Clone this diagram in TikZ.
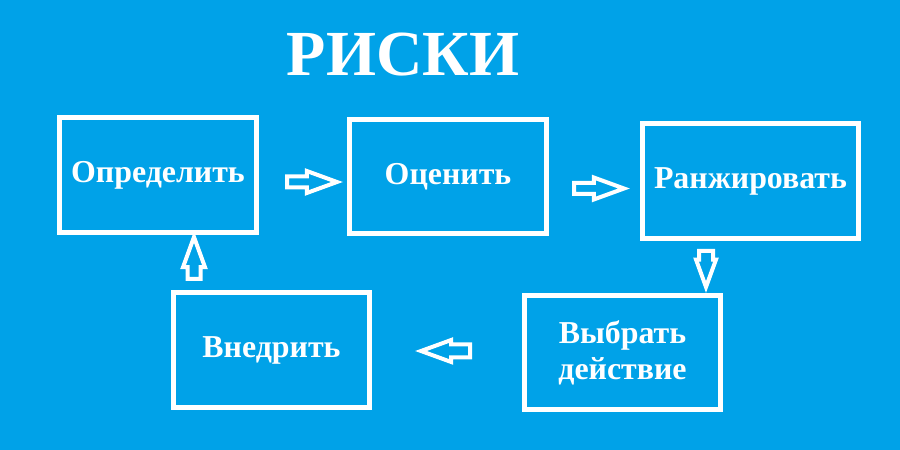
\documentclass[tikz,border=0pt]{standalone}
\usepackage{fontspec}
\setmainfont{Liberation Serif}
\usetikzlibrary{shapes.arrows}
\definecolor{riskbg}{RGB}{0,162,232}
\tikzset{
  riskbox/.style={draw=white,line width=5bp,text=white,align=center,inner sep=0pt,
    font=\fontsize{32}{36}\selectfont\bfseries},
  hollow/.style={single arrow,draw=white,line width=4bp,fill=none,inner xsep=0pt,anchor=tail,
    single arrow tip angle=40,single arrow head indent=0pt},
  heading/.style={text=white,font=\fontsize{64.5}{70}\selectfont\bfseries,inner sep=0pt}
}
\begin{document}
\begin{tikzpicture}[x=1bp,y=-1bp]
  \fill[riskbg] (0,0) rectangle (900,450);
  \useasboundingbox (0,0) rectangle (900,450);

  \node (title) [heading] at (403,55) {РИСКИ};

  % the five steps
  \node (defn) [riskbox,minimum width=197bp,minimum height=115bp] at (158,175) {Определить};
  \node (eval) [riskbox,minimum width=197bp,minimum height=114bp] at (448,177) {Оценить};
  \node (rank) [riskbox,minimum width=216bp,minimum height=115bp] at (750.5,181) {Ранжировать};
  \node (choose) [riskbox,minimum width=196bp,minimum height=114bp] at (622.5,352.5) {Выбрать\\действие};
  \node (impl) [riskbox,minimum width=196bp,minimum height=115bp] at (271.5,350) {Внедрить};

  % hollow block arrows between the steps (placed by their tails)
  \node (defnEval) [hollow,minimum height=50bp,inner ysep=3.5bp,single arrow head extend=5.5bp] at (285,182) {};
  \node (evalRank) [hollow,minimum height=50bp,inner ysep=3.5bp,single arrow head extend=5.5bp] at (572,188.5) {};
  \node (rankChoose) [hollow,rotate=-90,minimum height=36bp,inner ysep=5bp,single arrow head extend=3bp] at (706,249) {};
  \node (chooseImpl) [hollow,rotate=180,minimum height=49bp,inner ysep=4.5bp,single arrow head extend=4.5bp] at (472,351) {};
  \node (implDefn) [hollow,rotate=90,minimum height=42bp,inner ysep=4.5bp,single arrow head extend=4.5bp] at (194,281) {};
\end{tikzpicture}
\end{document}
